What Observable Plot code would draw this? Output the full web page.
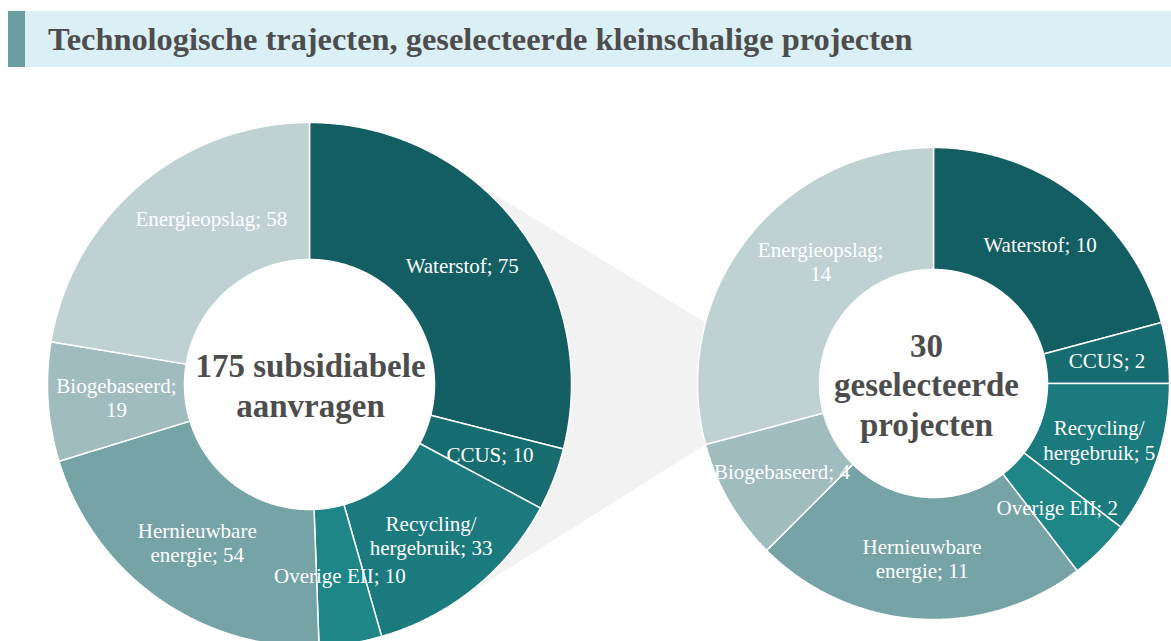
<!DOCTYPE html>
<html><head><meta charset="utf-8">
<script src="https://cdn.jsdelivr.net/npm/d3@7"></script>
<script src="https://cdn.jsdelivr.net/npm/@observablehq/plot@0.6"></script>
<style>
html,body{margin:0;padding:0;background:#fff;overflow:hidden;width:1171px;height:641px}
#wrap{padding-top:11px}
#title{margin:0 0 0 8px;height:56px;background:#dbf0f6;border-left:17px solid #6b9ea1;box-sizing:border-box;
 font-family:"Liberation Serif","Times New Roman",serif;font-weight:bold;font-size:32.4px;color:#4d4d4d;
 line-height:56px;padding-left:23px;white-space:nowrap}
#chart svg{display:block}
</style></head><body>
<div id="wrap">
<div id="title">Technologische trajecten, geselecteerde kleinschalige projecten</div>
<div id="chart"></div>
</div>
<script>
// ---- data ----
const categories = ["Waterstof","CCUS","Recycling/hergebruik","Overige EII","Hernieuwbare energie","Biogebaseerd","Energieopslag"];
const aanvragenValues = [75, 10, 33, 10, 54, 19, 58];
const projectenValues = [10, 2, 5, 2, 11, 4, 14];
const aanvragenLabels = ["Waterstof; 75","CCUS; 10","Recycling/\nhergebruik; 33","Overige EII; 10","Hernieuwbare\nenergie; 54","Biogebaseerd;\n19","Energieopslag; 58"];
const projectenLabels = ["Waterstof; 10","CCUS; 2","Recycling/\nhergebruik; 5","Overige EII; 2","Hernieuwbare\nenergie; 11","Biogebaseerd; 4","Energieopslag;\n14"];
const centerTitles = ["175 subsidiabele\naanvragen", "30\ngeselecteerde\nprojecten"];
const sliceColors = ["#135e62","#176c6f","#1a7a7d","#1e8687","#75a3a6","#a1bcbe","#bfd1d3"];

// ---- layout ----
const W = 1171, H = 574;
const donuts = [
  {values: aanvragenValues, labels: aanvragenLabels, center: centerTitles[0], cx: 309, cy: 317, outer: 262, inner: 125, centerDx: 1, nudge: {6: [27, -19]}},
  {values: projectenValues, labels: projectenLabels, center: centerTitles[1], cx: 933, cy: 316, outer: 236, inner: 114, centerDx: -7, nudge: {6: [26, -16]}}
];
const rad = Math.PI / 180;
const pt = (d, r, a) => ({x: d.cx + r * Math.sin(a), y: d.cy - r * Math.cos(a)});

const marks = [];

// connector between the two doughnuts
const L = donuts[0], R = donuts[1];
const connector = [pt(L, L.outer, 41 * rad), pt(R, R.outer, 285 * rad), pt(R, R.outer, 255 * rad), pt(L, L.outer, 145 * rad)];
connector.push(connector[0]);
marks.push(Plot.line(connector, {x: "x", y: "y", fill: "#f2f2f2", stroke: "none"}));

for (const d of donuts) {
  const arcs = d3.pie().sort(null).value(v => v)(d.values);
  const labelData = [];
  arcs.forEach((a, i) => {
    const pts = [];
    const n = Math.max(2, Math.ceil((a.endAngle - a.startAngle) / (0.4 * rad)));
    for (let k = 0; k <= n; k++) pts.push(pt(d, d.outer, a.startAngle + (a.endAngle - a.startAngle) * k / n));
    for (let k = n; k >= 0; k--) pts.push(pt(d, d.inner, a.startAngle + (a.endAngle - a.startAngle) * k / n));
    pts.push(pts[0]);
    marks.push(Plot.line(pts, {x: "x", y: "y", fill: sliceColors[i], stroke: "white", strokeWidth: 1.5, strokeLinejoin: "miter", strokeLinecap: "butt"}));
    const mid = (a.startAngle + a.endAngle) / 2;
    const c = pt(d, (d.inner + d.outer) / 2, mid);
    const nd = d.nudge[i] || [0, 0];
    labelData.push({x: c.x + nd[0], y: c.y + nd[1], text: d.labels[i]});
  });
  marks.push(Plot.text(labelData, {x: "x", y: "y", text: "text", fill: "white", fontFamily: "Liberation Serif", fontSize: 21, lineHeight: 1.15}));
  marks.push(Plot.text([{x: d.cx + d.centerDx, y: d.cy, text: d.center}], {x: "x", y: "y", text: "text", fill: "#4d4d4d", fontFamily: "Liberation Serif", fontWeight: "bold", fontSize: 33, lineHeight: 1.2}));
}

const chart = Plot.plot({
  width: W, height: H, margin: 0,
  x: {domain: [0, W], range: [0, W], axis: null},
  y: {domain: [0, H], range: [0, H], axis: null},
  style: {background: "transparent", overflow: "hidden"},
  marks
});
document.getElementById("chart").appendChild(chart);
</script>
</body></html>
